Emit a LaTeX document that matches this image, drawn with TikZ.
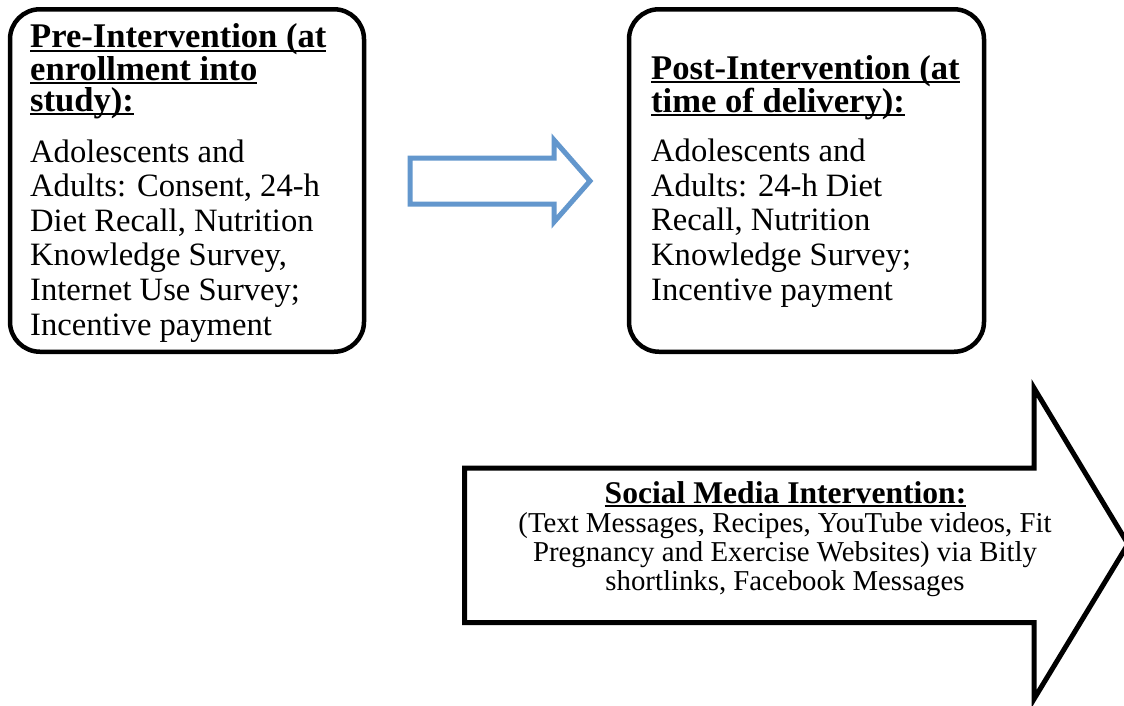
\documentclass[tikz,border=0pt]{standalone}
\usepackage{fontspec}
\setmainfont{Liberation Serif}
\definecolor{arrowblue}{RGB}{99,151,205}
\newcommand\myul[1]{\setbox0\hbox{#1}\rlap{\rule[-4pt]{\wd0}{1.8pt}}\box0}
\begin{document}
\begin{tikzpicture}[x=1pt,y=-1pt,
  box/.style={draw=black,line width=4.5pt,rounded corners=30pt,inner sep=0pt,outer sep=0pt,anchor=north west},
  bodytext/.style={anchor=base west,inner sep=0pt,align=left,font=\fontsize{32.6}{34.6}\selectfont},
  headtext/.style={anchor=base west,inner sep=0pt,align=left,font=\fontsize{34.6}{31}\selectfont\bfseries},
  blockarrow/.style={line width=5pt,miter limit=20,line join=miter},
  smtext/.style={anchor=base,inner sep=0pt,align=center,font=\fontsize{28.8}{29}\selectfont}]
\useasboundingbox[fill=white] (0,0) rectangle (1124,705);
% boxes
\node[box,minimum width=354pt,minimum height=342.5pt] (pre) at (10,9.25) {};
\node[box,minimum width=355pt,minimum height=342.5pt] (post) at (629,9.25) {};
% texts (anchored at the baseline of their last line)
\node[headtext] (preh) at (30,111) {\myul{Pre-Intervention (at}\\\myul{enrollment into}\\\myul{study):}};
\node[bodytext] (preb) at (30,335) {Adolescents and\\Adults: Consent, 24-h\\Diet Recall, Nutrition\\Knowledge Survey,\\Internet Use Survey;\\Incentive payment};
\node[headtext] (posth) at (651,112) {\myul{Post-Intervention (at}\\\myul{time of delivery):}};
\node[bodytext] (postb) at (651,300) {Adolescents and\\Adults: 24-h Diet\\Recall, Nutrition\\Knowledge Survey;\\Incentive payment};
% blue arrow
\draw[blockarrow,draw=arrowblue] (410,158) -- (554,158) -- (554,140) -- (590,181) -- (554,222) -- (554,204) -- (410,204) -- cycle;
% big arrow
\draw[blockarrow,draw=black,fill=white] (464.5,468) -- (1034,468) -- (1034,388) -- (1128,544) -- (1034,699) -- (1034,622.5) -- (464.5,622.5) -- cycle;
\node[smtext,font=\fontsize{31.6}{29}\selectfont\bfseries] (smh) at (785.5,503) {\myul{Social Media Intervention:}};
\node[smtext] (smb) at (785,590) {(Text Messages, Recipes, YouTube videos, Fit\\Pregnancy and Exercise Websites) via Bitly\\shortlinks, Facebook Messages};
\end{tikzpicture}
\end{document}
